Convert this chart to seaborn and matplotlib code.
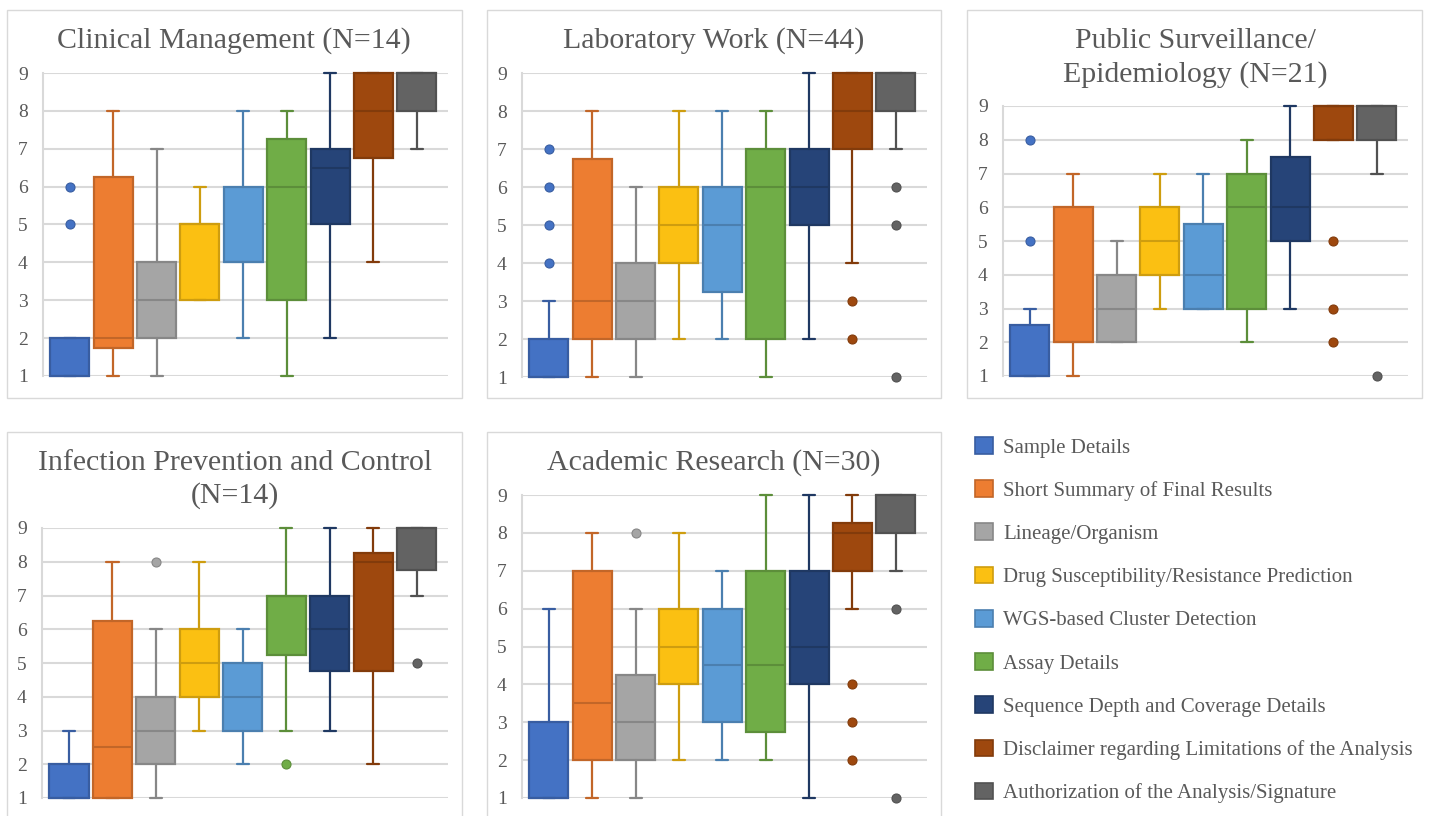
import matplotlib
matplotlib.use("Agg")
import matplotlib.pyplot as plt
from matplotlib.patches import Rectangle, Patch
from matplotlib.colors import to_rgb
import seaborn as sns

# ---------------------------------------------------------------- data
categories = [
    "Sample Details",
    "Short Summary of Final Results",
    "Lineage/Organism",
    "Drug Susceptibility/Resistance Prediction",
    "WGS-based Cluster Detection",
    "Assay Details",
    "Sequence Depth and Coverage Details",
    "Disclaimer regarding Limitations of the Analysis",
    "Authorization of the Analysis/Signature",
]
y_ticks = [1, 2, 3, 4, 5, 6, 7, 8, 9]

# Clinical Management (N=14)
clin_wlo = [1, 1, 1, 3, 2, 1, 2, 4, 7]
clin_q1 = [1, 1.75, 2, 3, 4, 3, 5, 6.75, 8]
clin_med = [1, 2, 3, 5, 4, 6, 6.5, 8, 9]
clin_q3 = [2, 6.25, 4, 5, 6, 7.25, 7, 9, 9]
clin_whi = [2, 8, 7, 6, 8, 8, 9, 9, 9]
clin_out = [[5, 6], [], [], [], [], [], [], [], []]

# Laboratory Work (N=44)
lab_wlo = [1, 1, 1, 2, 2, 1, 2, 4, 7]
lab_q1 = [1, 2, 2, 4, 3.25, 2, 5, 7, 8]
lab_med = [1, 3, 3, 5, 5, 6, 6, 8, 9]
lab_q3 = [2, 6.75, 4, 6, 6, 7, 7, 9, 9]
lab_whi = [3, 8, 6, 8, 8, 8, 9, 9, 9]
lab_out = [[4, 5, 6, 7], [], [], [], [], [], [], [2, 3], [1, 5, 6]]

# Public Surveillance/Epidemiology (N=21)
pub_wlo = [1, 1, 2, 3, 3, 2, 3, 8, 7]
pub_q1 = [1, 2, 2, 4, 3, 3, 5, 8, 8]
pub_med = [1, 2, 3, 5, 4, 6, 6, 9, 9]
pub_q3 = [2.5, 6, 4, 6, 5.5, 7, 7.5, 9, 9]
pub_whi = [3, 7, 5, 7, 7, 8, 9, 9, 9]
pub_out = [[5, 8], [], [], [], [], [], [], [2, 3, 5], [1]]

# Infection Prevention and Control (N=14)
ipc_wlo = [1, 1, 1, 3, 2, 3, 3, 2, 7]
ipc_q1 = [1, 1, 2, 4, 3, 5.25, 4.75, 4.75, 7.75]
ipc_med = [1, 2.5, 3, 5, 4, 7, 6, 8, 9]
ipc_q3 = [2, 6.25, 4, 6, 5, 7, 7, 8.25, 9]
ipc_whi = [3, 8, 6, 8, 6, 9, 9, 9, 9]
ipc_out = [[], [], [8], [], [], [2], [], [], [5]]

# Academic Research (N=30)
acad_wlo = [1, 1, 1, 2, 2, 2, 1, 6, 7]
acad_q1 = [1, 2, 2, 4, 3, 2.75, 4, 7, 8]
acad_med = [1, 3.5, 3, 5, 4.5, 4.5, 5, 8, 9]
acad_q3 = [3, 7, 4.25, 6, 6, 7, 7, 8.25, 9]
acad_whi = [6, 8, 6, 8, 7, 9, 9, 9, 9]
acad_out = [[], [], [8], [], [], [], [], [2, 3, 4], [1, 6]]

# ---------------------------------------------------------------- style
fills = ["#4472C4", "#ED7D31", "#A5A5A5", "#FBC012", "#5B9BD5",
         "#70AD47", "#264478", "#9E480E", "#636363"]
TEXT = "#595959"
GRID = "#D9D9D9"
SERIF = ["Liberation Serif", "DejaVu Serif"]

sns.set_theme(style="white")
plt.rcParams["font.family"] = SERIF


def darker(c, f=0.82):
    r, g, b = to_rgb(c)
    return (r * f, g * f, b * f)


edges = [darker(c) for c in fills]

W, H = 1437, 816
fig = plt.figure(figsize=(W / 100, H / 100), dpi=100)
fig.patch.set_facecolor("white")


def fx(x):
    return x / W


def fy(y):
    return 1 - y / H


def frame(x0, y0, x1, y1):
    fig.patches.append(Rectangle((fx(x0), fy(y1)), fx(x1) - fx(x0), fy(y0) - fy(y1),
                                 transform=fig.transFigure, fill=False,
                                 edgecolor=GRID, linewidth=1.0, zorder=0))


def panel(box, lo, q1, med, q3, hi, out):
    x0, y0, x1, y1 = box
    ax = fig.add_axes([fx(x0), fy(y1), fx(x1) - fx(x0), fy(y0) - fy(y1)])
    ax.set_facecolor("none")
    n = len(categories)
    stats = [dict(whislo=lo[i], q1=q1[i], med=med[i], q3=q3[i], whishi=hi[i],
                  fliers=out[i]) for i in range(n)]
    for i in range(n):
        res = ax.bxp([stats[i]], positions=[i], widths=0.9, capwidths=0.28,
                     patch_artist=True, showfliers=True, manage_ticks=False,
                     boxprops=dict(facecolor=fills[i], edgecolor=edges[i], linewidth=1.6),
                     medianprops=dict(color=edges[i], linewidth=1.5),
                     whiskerprops=dict(color=edges[i], linewidth=1.6),
                     capprops=dict(color=edges[i], linewidth=1.6),
                     flierprops=dict(marker="o", markersize=6.5,
                                     markerfacecolor=fills[i],
                                     markeredgecolor=edges[i],
                                     markeredgewidth=0.8))
        for group in res.values():
            for art in group:
                art.set_clip_on(False)
                art.set_zorder(3)
    ax.set_xlim(-0.62, 8.72)
    ax.set_ylim(1, 9)
    ax.set_yticks(y_ticks)
    ax.set_yticklabels([str(t) for t in y_ticks])
    ax.set_xticks([])
    ax.tick_params(axis="y", length=0, pad=11, labelsize=14, labelcolor=TEXT)
    for lab in ax.get_yticklabels():
        lab.set_family(SERIF)
    ax.grid(axis="y", color=GRID, linewidth=1.5)
    ax.set_axisbelow(True)
    for side in ("top", "right", "bottom"):
        ax.spines[side].set_visible(False)
    ax.spines["left"].set_color(GRID)
    ax.spines["left"].set_linewidth(1.5)
    return ax


def title(cx, lines):
    for text, base in lines:
        fig.text(fx(cx), fy(base), text, ha="center", va="baseline",
                 fontsize=21.5, color=TEXT, family=SERIF)


# panel frames
frame(7, 10, 462, 398)
frame(487, 10, 941, 398)
frame(967, 10, 1422, 398)
frame(7, 432, 462, 830)
frame(487, 432, 941, 830)

panel((43, 73, 448, 376), clin_wlo, clin_q1, clin_med, clin_q3, clin_whi, clin_out)
title(234, [("Clinical Management (N=14)", 48)])

panel((522, 73, 927, 377), lab_wlo, lab_q1, lab_med, lab_q3, lab_whi, lab_out)
title(714, [("Laboratory Work (N=44)", 48)])

panel((1003, 106, 1408, 376), pub_wlo, pub_q1, pub_med, pub_q3, pub_whi, pub_out)
title(1195, [("Public Surveillance/", 48), ("Epidemiology (N=21)", 82)])

panel((42, 528, 448, 798), ipc_wlo, ipc_q1, ipc_med, ipc_q3, ipc_whi, ipc_out)
title(235, [("Infection Prevention and Control", 470), ("(N=14)", 503)])

panel((522, 495, 927, 798), acad_wlo, acad_q1, acad_med, acad_q3, acad_whi, acad_out)
title(714, [("Academic Research (N=30)", 470)])

# shared legend in the free lower-right slot
handles = [Patch(facecolor=fills[i], edgecolor=edges[i], linewidth=1.2)
           for i in range(len(categories))]
fig.legend(handles, categories, loc="upper left",
           bbox_to_anchor=(fx(975), fy(437)), bbox_transform=fig.transFigure,
           frameon=False, fontsize=15, labelcolor=TEXT,
           handlelength=0.85, handleheight=0.85, handletextpad=0.5,
           labelspacing=1.09, borderpad=0, borderaxespad=0,
           prop=dict(family=SERIF, size=15))

fig.savefig("out.png", dpi=100, facecolor="white")
